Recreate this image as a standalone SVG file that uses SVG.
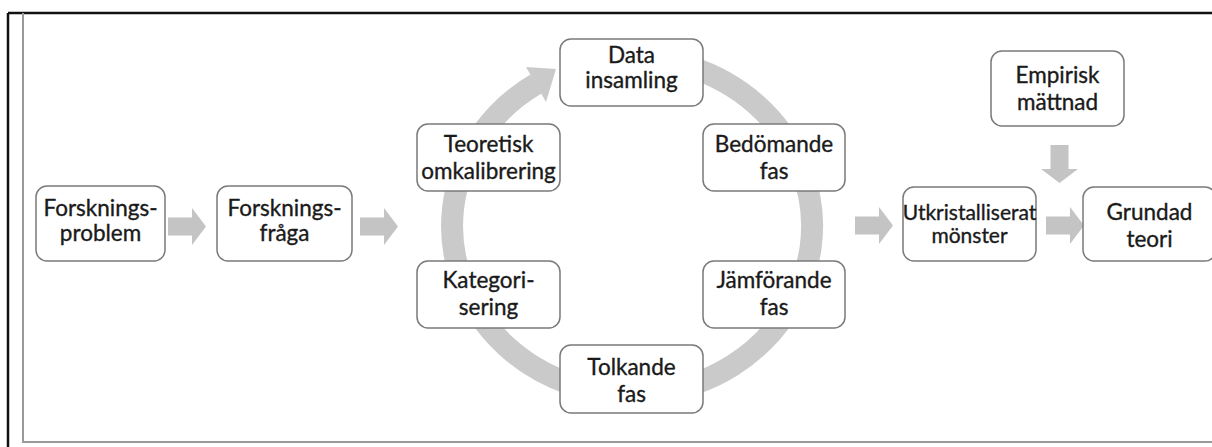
<svg xmlns="http://www.w3.org/2000/svg" xmlns:xlink="http://www.w3.org/1999/xlink" width="1212" height="447" viewBox="0 0 1212 447">
<style>
.box{fill:#fff;stroke:#7a7a7a;stroke-width:1.5}
.t{font-family:Lato,"Liberation Sans",sans-serif;font-size:22.5px;fill:#1a1a1a;stroke:#1a1a1a;stroke-width:0.35;text-anchor:middle}
.s{font-size:21px}
.arr{fill:#c4c4c4}
</style>
<defs>
<path id="arr" d="M0,-9 H24 V-18.5 L38,0 L24,18.5 V9 H0 Z"/>
</defs>
<rect width="1212" height="447" fill="#fff"/>
<g id="frame" fill="none">
<line x1="8" y1="13" x2="1212" y2="13" stroke="#111" stroke-width="2.5"/>
<line x1="8" y1="13" x2="8" y2="447" stroke="#111" stroke-width="2.5"/>
<polyline points="23,13 23,442 1212,442" stroke="#9a9a9a" stroke-width="2"/>
</g>
<g id="connectors">
<path d="M690,67 A180,168 0 1 1 536,84" fill="none" stroke="#cacaca" stroke-width="22"/>
<polygon points="526,67 556,69 546,102" fill="#cacaca"/>
<use href="#arr" class="arr" x="168" y="226.5"/>
<use href="#arr" class="arr" x="360" y="226.5"/>
<use href="#arr" class="arr" x="855" y="225.5"/>
<use href="#arr" class="arr" x="1046" y="225.5"/>
<use href="#arr" class="arr" transform="translate(1059.5,145) rotate(90)"/>
</g>
<g id="n1"><rect class="box" x="36" y="186" width="129" height="75" rx="11"/><text class="t" x="100.5" y="216">Forsknings-</text><text class="t" x="100.5" y="241">problem</text></g>
<g id="n2"><rect class="box" x="217" y="186" width="135" height="75" rx="11"/><text class="t" x="284.5" y="216">Forsknings-</text><text class="t" x="284.5" y="241">fråga</text></g>
<g id="n3"><rect class="box" x="560" y="39" width="143" height="67" rx="11"/><text class="t" x="631.5" y="63">Data</text><text class="t" x="631.5" y="88">insamling</text></g>
<g id="n4"><rect class="box" x="703" y="124" width="142" height="67" rx="11"/><text class="t" x="774" y="152">Bedömande</text><text class="t" x="774" y="179">fas</text></g>
<g id="n5"><rect class="box" x="703" y="261" width="142" height="67" rx="11"/><text class="t" x="774" y="288">Jämförande</text><text class="t" x="774" y="315">fas</text></g>
<g id="n6"><rect class="box" x="560" y="345" width="143" height="68" rx="11"/><text class="t" x="631.5" y="375">Tolkande</text><text class="t" x="631.5" y="402">fas</text></g>
<g id="n7"><rect class="box" x="417" y="261" width="143" height="67" rx="11"/><text class="t" x="488.5" y="288">Kategori-</text><text class="t" x="488.5" y="315">sering</text></g>
<g id="n8"><rect class="box" x="417" y="124" width="143" height="67" rx="11"/><text class="t" x="488.5" y="152">Teoretisk</text><text class="t" x="488.5" y="179">omkalibrering</text></g>
<g id="n9"><rect class="box" x="903" y="187" width="133" height="74" rx="11"/><text class="t s" x="969.5" y="220">Utkristalliserat</text><text class="t s" x="969.5" y="243">mönster</text></g>
<g id="n10"><rect class="box" x="991" y="51" width="133" height="75" rx="11"/><text class="t" x="1057.5" y="83">Empirisk</text><text class="t" x="1057.5" y="110">mättnad</text></g>
<g id="n11"><rect class="box" x="1083" y="187" width="133" height="74" rx="11"/><text class="t" x="1149.5" y="220">Grundad</text><text class="t" x="1149.5" y="247">teori</text></g>
</svg>
